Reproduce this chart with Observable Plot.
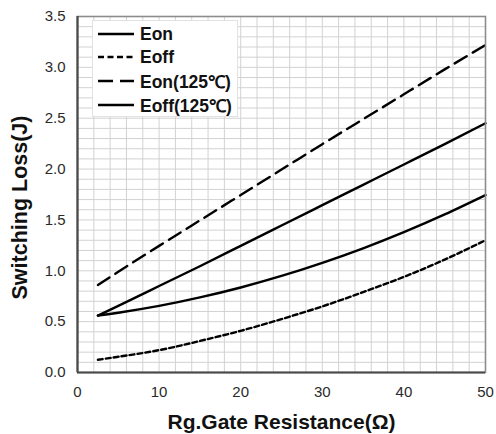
<!DOCTYPE html>
<html>
<head>
<meta charset="utf-8">
<script src="https://cdn.jsdelivr.net/npm/d3@7"></script>
<script src="https://cdn.jsdelivr.net/npm/@observablehq/plot@0.6"></script>
<style>
  html, body { margin: 0; padding: 0; background: #fff; }
  #chart { position: relative; width: 496px; height: 434px; font-family: "Liberation Sans", Arial, sans-serif; }
  #legend {
    position: absolute; left: 92px; top: 20px; width: 146px; height: 97px;
    background: #fff; border: 1px solid #e2e2e2; box-sizing: border-box;
  }
  .row { position: absolute; left: 4px; height: 24px; display: flex; align-items: center; }
  .row svg { width: 38px; height: 6px; margin-right: 5px; }
  .row span { font-weight: bold; font-size: 17.5px; color: #111; white-space: nowrap; }
</style>
</head>
<body>
<div id="chart"></div>
<script>
// Gate resistance (Ω) at which the losses are sampled
const rg = [2.5, 5, 10, 15, 20, 25, 30, 35, 40, 45, 50];

// Switching losses (J)
const eon      = [0.56, 0.655, 0.85, 1.045, 1.245, 1.445, 1.645, 1.845, 2.045, 2.245, 2.45];
const eoff     = [0.125, 0.155, 0.22, 0.31, 0.41, 0.525, 0.65, 0.79, 0.94, 1.11, 1.30];
const eon125   = [0.86, 0.99, 1.245, 1.495, 1.745, 1.995, 2.245, 2.49, 2.735, 2.98, 3.22];
const eoff125  = [0.56, 0.588, 0.655, 0.738, 0.836, 0.949, 1.078, 1.221, 1.38, 1.554, 1.744];

const seriesNames = ["Eon", "Eoff", "Eon(125℃)", "Eoff(125℃)"];
const seriesValues = [eon, eoff, eon125, eoff125];

// Axis ticks
const xTicks = [0, 10, 20, 30, 40, 50];
const yTicks = [0, 0.5, 1.0, 1.5, 2.0, 2.5, 3.0, 3.5];

// Line styles per series
const dashes = {"Eon": null, "Eoff": "5,3", "Eon(125℃)": "14,7", "Eoff(125℃)": null};

const rows = seriesNames.flatMap((name, i) =>
  rg.map((x, j) => ({series: name, rg: x, loss: seriesValues[i][j]})));

const xMinor = d3.range(0, 51, 2);
const yMinor = d3.range(0, 36).map(i => i / 10);

const lineMarks = seriesNames.map(name =>
  Plot.line(rows.filter(d => d.series === name), {
    x: "rg", y: "loss", stroke: "#000", strokeWidth: 2.4,
    strokeDasharray: dashes[name], curve: "natural"
  }));

const plot = Plot.plot({
  width: 496,
  height: 434,
  marginLeft: 77,
  marginRight: 11,
  marginTop: 16,
  marginBottom: 62,
  style: {fontFamily: "'Liberation Sans', Arial, sans-serif", background: "#fff", color: "#2a2a2a"},
  x: {domain: [0, 50]},
  y: {domain: [0, 3.5]},
  marks: [
    Plot.ruleX(xMinor, {stroke: "#d2d2d2", strokeWidth: 1}),
    Plot.ruleY(yMinor, {stroke: "#d2d2d2", strokeWidth: 1}),
    ...lineMarks,
    Plot.frame({stroke: "#8c8c8c", strokeWidth: 1.6}),
    Plot.ruleX([0], {stroke: "#4a4a4a", strokeWidth: 2.2}),
    Plot.ruleY([0], {stroke: "#4a4a4a", strokeWidth: 2.2}),
    Plot.axisX({ticks: xTicks, tickSize: 0, tickPadding: 14, fontSize: 15, label: null, tickFormat: d3.format("d")}),
    Plot.axisY({ticks: yTicks, tickSize: 0, tickPadding: 12, fontSize: 15, label: null, tickFormat: d3.format(".1f")}),
    Plot.text(["Rg.Gate Resistance(Ω)"], {frameAnchor: "bottom", dy: 56, fontSize: 21, fontWeight: "bold", fill: "#111"}),
    Plot.text(["Switching Loss(J)"], {frameAnchor: "left", textAnchor: "middle", dx: -57, dy: 13, rotate: -90, fontSize: 21.5, fontWeight: "bold", fill: "#111"})
  ]
});

const chart = document.getElementById("chart");
chart.appendChild(plot);

// Legend inside the plot area
const legend = document.createElement("div");
legend.id = "legend";
const rowTops = [1, 24, 48, 72];
seriesNames.forEach((name, i) => {
  const row = document.createElement("div");
  row.className = "row";
  row.style.top = rowTops[i] + "px";
  const dash = dashes[name] ? ` stroke-dasharray="${name === "Eoff" ? "6,3.5" : "15,7"}"` : "";
  row.innerHTML = `<svg viewBox="0 0 38 6"><line x1="1" y1="3" x2="37" y2="3" stroke="#000" stroke-width="2.4"${dash}/></svg><span>${name}</span>`;
  legend.appendChild(row);
});
chart.appendChild(legend);
</script>
</body>
</html>
